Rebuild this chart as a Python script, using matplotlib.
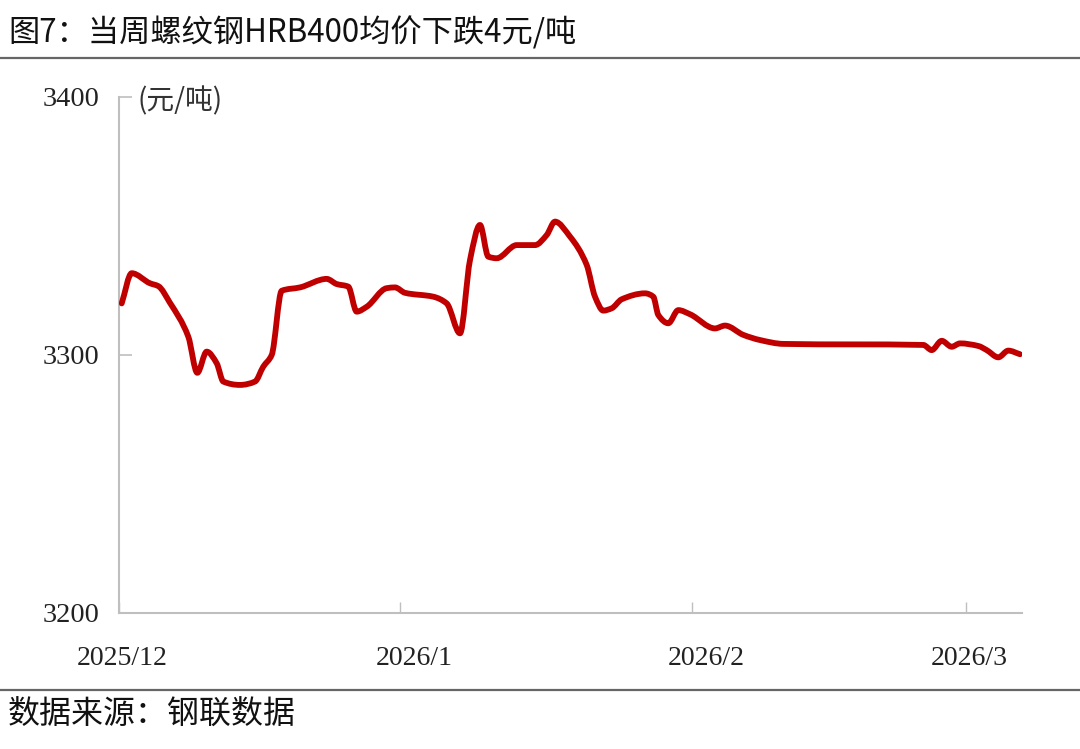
import matplotlib
matplotlib.use("Agg")
import matplotlib.pyplot as plt
from matplotlib.path import Path
from matplotlib.patches import PathPatch

# ---- data ----
x_pos = [2.7, 12.7, 31, 39.3, 51, 69.3, 78.3, 87.7, 97.7, 104.3, 121, 136, 144.3, 152.7,
         162.7, 181, 207.7, 217.7, 229.3, 237.7, 247.7, 267.7, 276, 286, 314.3, 327.7,
         341, 351, 361, 369.3, 377.7, 397.7, 416, 427.7, 436, 451, 467.7, 476, 484.3,
         492.7, 502.7, 526, 534.3, 539.3, 549.3, 559.3, 571, 596, 606, 624.3, 641,
         664.3, 804.3, 812.7, 822.7, 832.7, 841, 859.3, 867.7, 879.3, 889.3, 901]
price = [3320.0, 3331.7, 3327.8, 3326.7, 3320.2, 3307.1, 3293.1, 3301.3, 3296.8, 3289.7,
         3288.4, 3289.7, 3295.5, 3300.0, 3324.9, 3326.2, 3329.5, 3327.5, 3326.5, 3316.8,
         3318.7, 3325.9, 3326.2, 3324.1, 3322.6, 3320.0, 3308.4, 3336.8, 3350.4, 3338.1,
         3337.5, 3342.6, 3342.6, 3346.5, 3351.7, 3345.9, 3334.9, 3322.6, 3317.2, 3318.1,
         3321.6, 3323.9, 3322.6, 3315.5, 3312.3, 3317.4, 3315.8, 3310.3, 3311.4, 3307.8,
         3305.8, 3304.3, 3303.9, 3301.9, 3305.5, 3303.2, 3304.5, 3303.5, 3301.9, 3299.1,
         3301.7, 3300.3]
tick_pos = [0, 281, 573, 847]
label_pos = [3, 295, 587, 850]
tick_labels = ["2025/12", "2026/1", "2026/2", "2026/3"]
y_ticks = [3200, 3300, 3400]

title = "图7：当周螺纹钢HRB400均价下跌4元/吨"
unit = "(元/吨)"
source = "数据来源：钢联数据"

W, H = 1080, 749
fig = plt.figure(figsize=(W / 100, H / 100), dpi=100)
fig.patch.set_facecolor("white")

cjk = ["Noto Sans CJK SC", "DejaVu Sans"]
serif = ["Liberation Serif", "DejaVu Serif"]

ax = fig.add_axes([119 / W, 1 - 613 / H, (1022 - 119) / W, (613 - 97) / H])
ax.set_xlim(0, 903)
ax.set_ylim(3200, 3400)


def smooth_path(xs, ys):
    """Monotone cubic (PCHIP-style tangents) smoothed path through the data points."""
    n = len(xs)
    slopes = []
    for i in range(n):
        if i == 0:
            m = (ys[1] - ys[0]) / (xs[1] - xs[0])
        elif i == n - 1:
            m = (ys[-1] - ys[-2]) / (xs[-1] - xs[-2])
        else:
            h0 = xs[i] - xs[i - 1]
            h1 = xs[i + 1] - xs[i]
            d0 = (ys[i] - ys[i - 1]) / h0
            d1 = (ys[i + 1] - ys[i]) / h1
            if d0 * d1 <= 0:
                m = 0.0
            else:
                w1 = 2 * h1 + h0
                w2 = h1 + 2 * h0
                m = (w1 + w2) / (w1 / d0 + w2 / d1)
        slopes.append(m)
    verts = [(xs[0], ys[0])]
    codes = [Path.MOVETO]
    for i in range(n - 1):
        dx = xs[i + 1] - xs[i]
        verts += [(xs[i] + dx / 3, ys[i] + slopes[i] * dx / 3),
                  (xs[i + 1] - dx / 3, ys[i + 1] - slopes[i + 1] * dx / 3),
                  (xs[i + 1], ys[i + 1])]
        codes += [Path.CURVE4] * 3
    return Path(verts, codes)


ax.add_patch(PathPatch(smooth_path(x_pos, price), facecolor="none",
                       edgecolor="#C00000", lw=4.2, joinstyle="round",
                       capstyle="round", zorder=3))

for s in ["top", "right"]:
    ax.spines[s].set_visible(False)
for s in ["left", "bottom"]:
    ax.spines[s].set_color("#BFBFBF")
    ax.spines[s].set_linewidth(1.5)

ax.set_yticks(y_ticks)
ax.set_yticklabels([str(v) for v in y_ticks], fontfamily=serif, fontsize=20.5)
ax.tick_params(axis="y", direction="in", length=9, width=1.2, color="#BFBFBF",
               pad=14, labelcolor="#222222")

ax.set_xticks(tick_pos, minor=True)
ax.tick_params(axis="x", which="minor", direction="in", length=8, width=1.0,
               color="#BFBFBF")
ax.set_xticks(label_pos)
ax.set_xticklabels(tick_labels, fontfamily=serif, fontsize=20)
ax.tick_params(axis="x", which="major", length=0, pad=24, labelcolor="#222222")

fig.text(138 / W, 1 - 101 / H, unit, fontfamily=cjk, fontsize=20,
         color="#333333", va="center", ha="left")

fig.text(8 / W, 1 - 33 / H, title, fontfamily=cjk, fontsize=22.5,
         color="#111111", va="center", ha="left")
fig.add_artist(plt.Line2D([0, 1], [1 - 58 / H, 1 - 58 / H], color="#666666",
                          lw=1.6, transform=fig.transFigure))
fig.add_artist(plt.Line2D([0, 1], [1 - 690 / H, 1 - 690 / H], color="#666666",
                          lw=1.6, transform=fig.transFigure))
fig.text(8 / W, 1 - 715 / H, source, fontfamily=cjk, fontsize=23,
         color="#111111", va="center", ha="left")

fig.savefig("out.png", dpi=100, facecolor="white")
